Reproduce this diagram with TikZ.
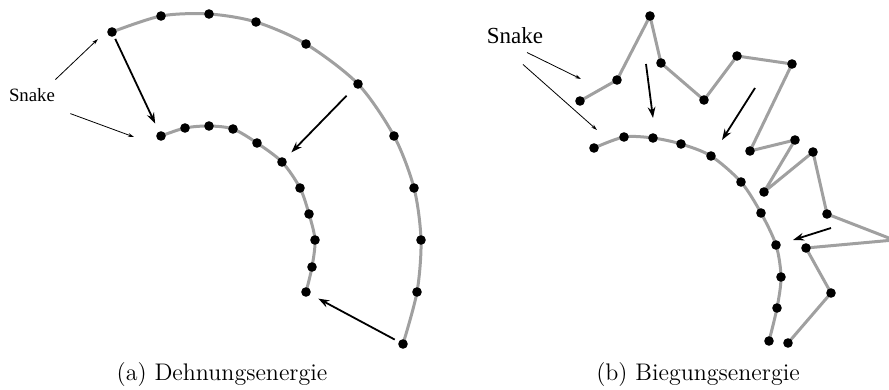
\documentclass[tikz,border=0pt]{standalone}
\usepackage{fontspec}
\newfontfamily\timesfont{Liberation Serif}
\usepackage{tikz}
\usetikzlibrary{arrows.meta}
\definecolor{snakegray}{RGB}{160,160,160}

\begin{document}
\begin{tikzpicture}[
  x=0.5pt, y=-0.5pt,
  contour/.style={draw=snakegray, line width=1.5pt, line join=round},
  knot/.style={circle, fill=black, minimum size=4.8pt, inner sep=0pt},
  force/.style={-{Stealth[length=5.5pt,width=3.8pt]}, line width=0.9pt},
  pointer/.style={-{Stealth[length=3pt,width=1.8pt]}, line width=0.4pt},
  snaketext/.style={inner sep=0pt},
  subcap/.style={font=\fontsize{12}{14}\selectfont, inner sep=0pt},
]
\useasboundingbox (0,0) rectangle (889,390);
\clip (0,0) rectangle (889,390);

% ── (a) Dehnungsenergie ──
\foreach \x/\y [count=\i] in {112/32,161/16,209/14,256/22,306/44,358/84,
    394/136,414/188,421/240,417/292,403/344}
  \coordinate (ao\i) at (\x,\y);
\foreach \x/\y [count=\i] in {161/136,185/128,209/126,233/129,257/143,282/162,
    300/188,309/214,315/240,312/267,306/292}
  \coordinate (ai\i) at (\x,\y);

\draw[contour] plot[smooth] coordinates {(ao1) (ao2) (ao3) (ao4) (ao5) (ao6)
  (ao7) (ao8) (ao9) (ao10) (ao11)};
\draw[contour] plot[smooth] coordinates {(ai1) (ai2) (ai3) (ai4) (ai5) (ai6)
  (ai7) (ai8) (ai9) (ai10) (ai11)};
\foreach \i in {1,...,11} {
  \node[knot] (kao\i) at (ao\i) {};
  \node[knot] (kai\i) at (ai\i) {};
}

\draw[force, shorten <=1.2pt, shorten >=4.2pt] (kao1) -- (kai1);
\draw[force, shorten <=5.6pt, shorten >=4.1pt] (kao6) -- (kai6);
\draw[force, shorten <=2.1pt, shorten >=4.4pt] (kao11) -- (kai11);

\node[snaketext, font=\timesfont\fontsize{9.4}{11}\selectfont] (snakeA) at (32,95) {Snake};
\coordinate (pa1) at (98,39);
\coordinate (pa2) at (134,137);
\draw[pointer] ([yshift=4.2pt]snakeA.north east) -- (pa1);
\draw[pointer] ([xshift=7.5pt, yshift=-5.8pt]snakeA.south east) -- (pa2);

\node[subcap] (capa) at (222,375) {(a) Dehnungsenergie};

% ── (b) Biegungsenergie ──
\foreach \x/\y [count=\i] in {580/101,617/80,650/16,661/63,704/100,737/56,
    792/64,750/151,795/140,764/192,813/152,827/214,894/240,806/248,831/293,788/343}
  \coordinate (bs\i) at (\x,\y);
\foreach \x/\y [count=\i] in {594/148,624/137,653/138,681/144,711/156,741/182,
    761/213,776/245,781/277,777/308,769/341}
  \coordinate (bc\i) at (\x,\y);

\draw[contour] (bs1) \foreach \i in {2,...,16} { -- (bs\i)};
\draw[contour] plot[smooth] coordinates {(bc1) (bc2) (bc3) (bc4) (bc5) (bc6)
  (bc7) (bc8) (bc9) (bc10) (bc11)};
\foreach \i in {1,...,12,14,15,16}
  \node[knot] (kbs\i) at (bs\i) {};
\foreach \i in {1,...,11}
  \node[knot] (kbc\i) at (bc\i) {};

% force arrows
\coordinate (fb1) at (646,64);  \coordinate (tb1) at (653,118);
\coordinate (fb2) at (755,88);  \coordinate (tb2) at (722,140);
\coordinate (fb3) at (831,228); \coordinate (tb3) at (793,240);
\draw[force] (fb1) -- (tb1);
\draw[force] (fb2) -- (tb2);
\draw[force] (fb3) -- (tb3);

\node[snaketext, font=\timesfont\fontsize{11.5}{13}\selectfont] (snakeB) at (515,36) {Snake};
\coordinate (pb1) at (581,79);
\coordinate (pb2) at (597,130);
\draw[pointer] ([xshift=6pt, yshift=-4pt]snakeB.south) -- (pb1);
\draw[pointer] ([xshift=4pt, yshift=-10pt]snakeB.south) -- (pb2);

\node[subcap] (capb) at (698,375) {(b) Biegungsenergie};

\end{tikzpicture}
\end{document}
